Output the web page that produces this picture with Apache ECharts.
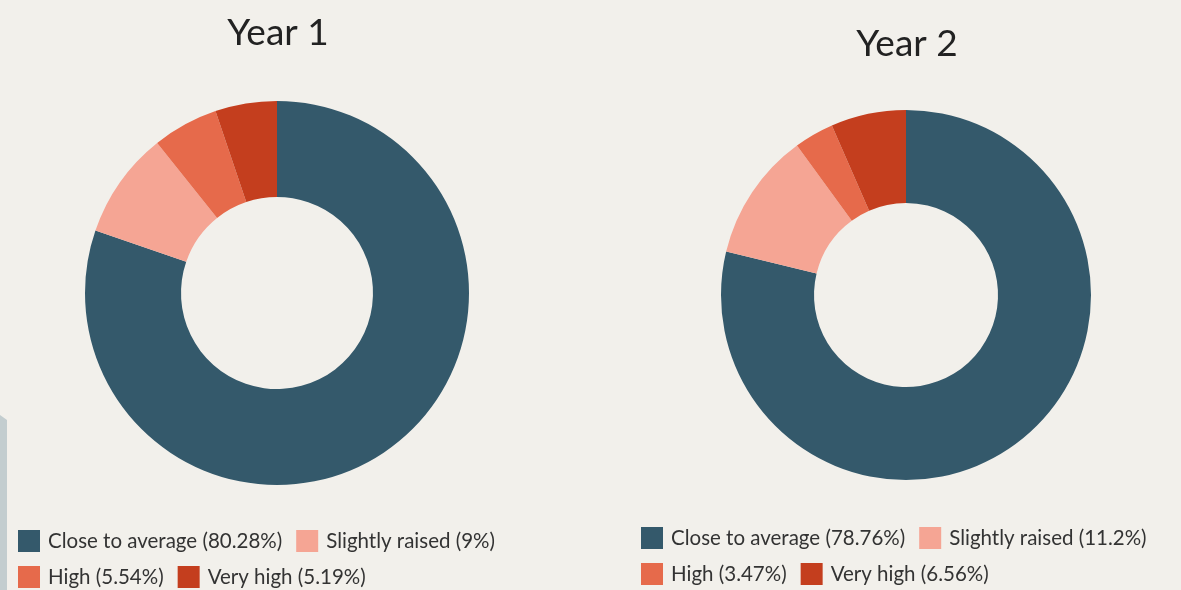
<!DOCTYPE html>
<html>
<head>
<meta charset="utf-8">
<script src="https://cdn.jsdelivr.net/npm/echarts@6/dist/echarts.min.js"></script>
<style>
  html, body { margin: 0; padding: 0; background: #f2f0eb; }
  #chart { width: 1181px; height: 590px; }
</style>
</head>
<body>
<div id="chart"></div>
<script>
  // categories and values
  var categories = ['Close to average', 'Slightly raised', 'High', 'Very high'];
  var year1 = [80.28, 9, 5.54, 5.19];
  var year2 = [78.76, 11.2, 3.47, 6.56];
  var titles = ['Year 1', 'Year 2'];

  var colors = ['#34596b', '#f5a594', '#e66a4b', '#c43e1e'];

  function toData(vals) {
    return categories.map(function (c, i) { return { name: c, value: vals[i] }; });
  }
  function labelFor(vals) {
    return function (name) {
      var i = categories.indexOf(name);
      return name + ' (' + vals[i] + '%)';
    };
  }

  var legendBase = {
    orient: 'horizontal',
    icon: 'rect',
    itemWidth: 22,
    itemHeight: 22,
    itemGap: 14,
    padding: 0,
    selectedMode: false,
    textStyle: { fontFamily: 'Lato', fontSize: 20.5, color: '#333', padding: [0, 6, 0, 3] }
  };

  var myChart = echarts.init(document.getElementById('chart'));
  myChart.setOption({
    backgroundColor: '#f2f0eb',
    color: colors,
    animation: false,
    title: [
      { text: titles[0], left: 273, top: 10, textAlign: 'center',
        textStyle: { fontFamily: 'Lato', fontSize: 37, fontWeight: 'normal', color: '#222' } },
      { text: titles[1], left: 902, top: 21, textAlign: 'center',
        textStyle: { fontFamily: 'Lato', fontSize: 37, fontWeight: 'normal', color: '#222' } }
    ],
    legend: [
      Object.assign({}, legendBase, {
        left: 18, top: 530, width: 530,
        data: categories, formatter: labelFor(year1)
      }),
      Object.assign({}, legendBase, {
        left: 641, top: 527, width: 540,
        data: categories, formatter: labelFor(year2)
      })
    ],
    graphic: [
      {
        type: 'polygon',
        shape: { points: [[0, 415], [7, 420], [7, 590], [0, 590]] },
        style: { fill: '#c3cdcf' },
        silent: true
      }
    ],
    series: [
      {
        name: titles[0],
        type: 'pie',
        center: [277, 293],
        radius: [96, 192],
        startAngle: 90,
        label: { show: false },
        labelLine: { show: false },
        data: toData(year1)
      },
      {
        name: titles[1],
        type: 'pie',
        center: [906, 295],
        radius: [92, 185],
        startAngle: 90,
        label: { show: false },
        labelLine: { show: false },
        data: toData(year2)
      }
    ]
  });
</script>
</body>
</html>
